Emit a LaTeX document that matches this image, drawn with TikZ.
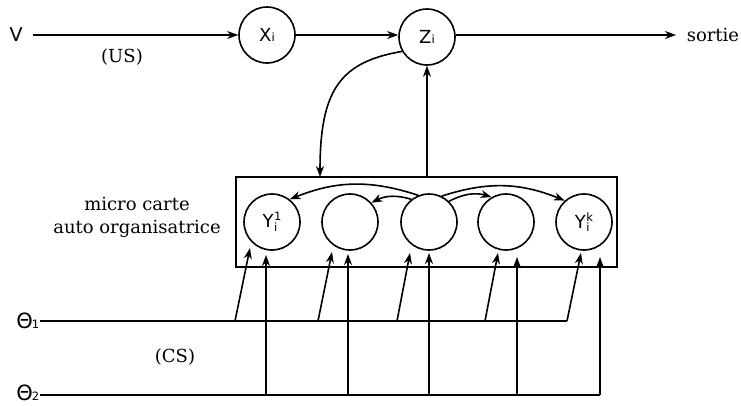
\documentclass[tikz,border=0pt]{standalone}
\usepackage{fontspec}
\setmainfont{DejaVu Serif}
\setsansfont{DejaVu Sans}
\usetikzlibrary{arrows.meta}
\newcommand\smallsz{\fontsize{11.5}{11.5}\selectfont}
\newcommand\Ylab[1]{Y\kern0.5pt\rlap{\raisebox{-3.5pt}{\smallsz i}}\raisebox{7pt}{\smallsz #1}}
\begin{document}
\begin{tikzpicture}[x=1pt,y=1pt,
  >={Stealth[length=11pt,width=8pt,inset=3.5pt]},
  line width=1.6pt,
  neuron/.style={draw,circle,minimum size=56pt,inner sep=0pt,line width=1.6pt,font=\sffamily\fontsize{18}{18}\selectfont},
  lbl/.style={font=\fontsize{18}{23}\selectfont,inner sep=0pt},
  slbl/.style={font=\sffamily\fontsize{19}{22}\selectfont,inner sep=0pt},
  thlbl/.style={font=\sffamily\fontsize{21}{22}\selectfont,inner sep=0pt},
  conn/.style={->,line width=1.6pt},
  wire/.style={line width=1.6pt}
]
\useasboundingbox (0,0) rectangle (741,-405);

% top row
\node[slbl] (v) at (16,-35) {V};
\node[neuron] (xi) at (267,-35) {X{\smallsz i}};
\node[neuron] (zi) at (427,-37) {Z{\smallsz i}};
\node[lbl,anchor=west] (sortie) at (686,-35) {sortie};
\node[lbl] (us) at (122,-57) {(US)};

\draw[conn] ([xshift=10pt]v.east) -- (xi.west);
\draw[conn] (xi.east) -- (xi.east -| zi.west);
\draw[conn] (xi.east -| zi.east) -- ([xshift=-10pt]sortie.west);

% map
\node[draw,line width=1.6pt,minimum width=381pt,minimum height=90pt,inner sep=0pt] (map) at (426.5,-222) {};
\node[lbl,align=center] (mc) at (137,-217) {micro carte\\auto organisatrice};

\node[neuron] (c1) at (272,-222) {\Ylab{1}};
\node[neuron] (c2) at (350,-222) {};
\node[neuron] (c3) at (429,-222) {};
\node[neuron] (c4) at (506,-222) {};
\node[neuron] (c5) at (584,-222) {\Ylab{k}};

% feedback between map and Z
\draw[conn] (zi |- map.north) -- (zi.south);
\coordinate (mapin) at (320,-177);
\draw[conn] (zi.210) .. controls (340,-62) and (320,-90) .. (mapin);

% lateral connections
\draw[conn] (c3.112) to[bend right=20] (c1.52);
\draw[conn] (c3.128) to[bend right=22] (c2.42);
\draw[conn] (c3.64) to[bend left=20] (c5.132);
\draw[conn] (c3.46) to[bend left=22] (c4.120);

% inputs
\node[thlbl,anchor=east] (th1) at (40,-321) {Θ\kern-1pt{\smallsz 1}};
\node[thlbl,anchor=east] (th2) at (40,-393) {Θ\kern-1pt{\smallsz 2}};
\node[lbl] (cs) at (175,-357) {(CS)};

\coordinate (e1) at (567,-321);
\coordinate (e2) at (600,-395);
\draw[wire] (th1.east) -- (e1);
\draw[wire] (th2.east |- e2) -- (e2);

\foreach \i/\sx/\tx/\ty/\vx/\vy in {1/235/250/248/266/255, 2/318/332/252/348/254, 3/397/410/253/429/253, 4/485/498/253/517/257, 5/567/581/253/600/257}{
  \coordinate (s\i) at (\sx,-321);
  \coordinate (t\i) at (\tx,-\ty);
  \coordinate (u\i) at (\vx,-395);
  \coordinate (w\i) at (\vx,-\vy);
  \draw[conn] (s\i) -- (t\i);
  \draw[conn] (u\i) -- (w\i);
}
\end{tikzpicture}
\end{document}
